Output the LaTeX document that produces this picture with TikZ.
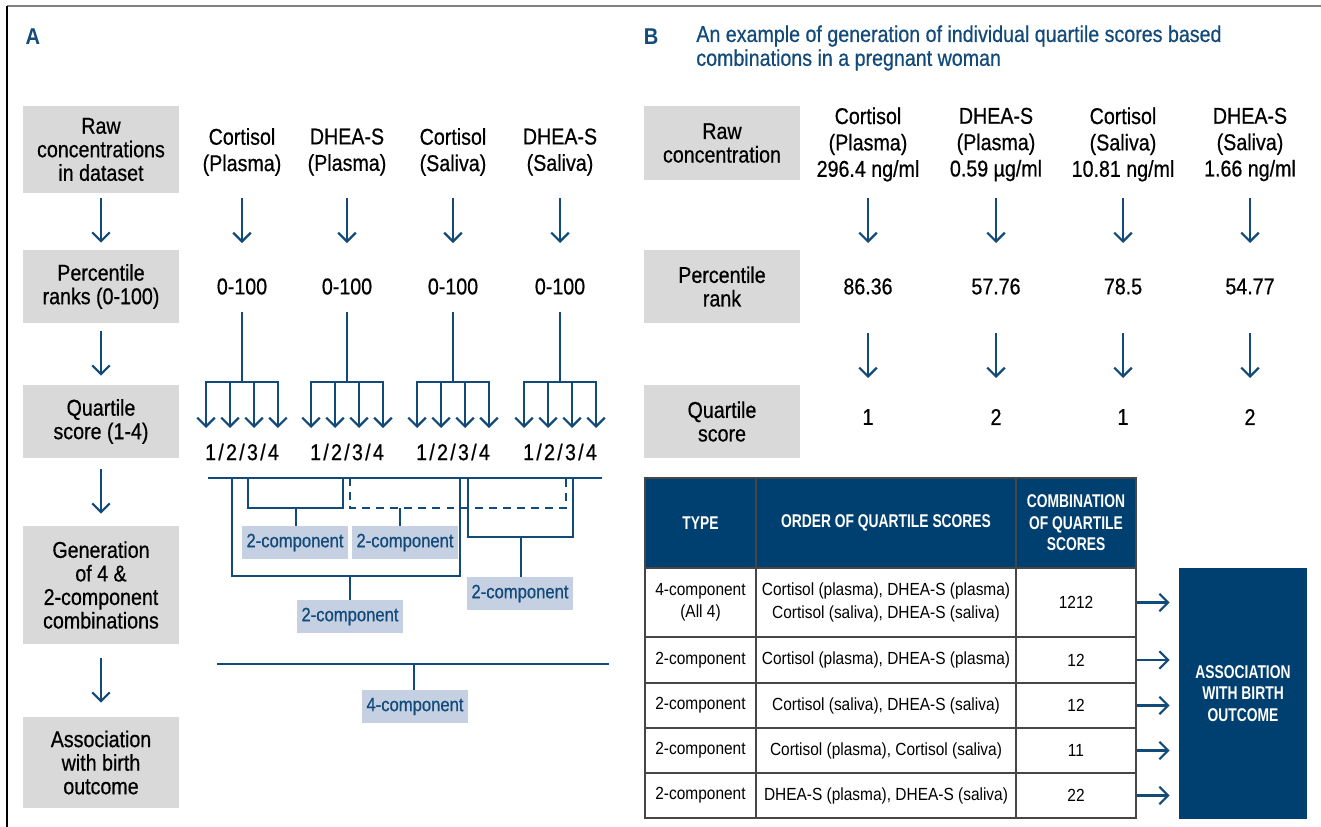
\documentclass[tikz,border=0pt]{standalone}
\usepackage{fontspec}
\setmainfont[FakeStretch=0.88]{Liberation Sans}
\newfontfamily\medfont[FakeStretch=0.86, FakeBold=0.6]{Liberation Sans}
\newfontfamily\condfont[FakeStretch=0.75]{Liberation Sans}
\usetikzlibrary{arrows.meta}

\definecolor{navy}{RGB}{0,64,112}
\definecolor{linkblue}{RGB}{18,74,122}
\definecolor{boxgray}{RGB}{217,217,217}
\definecolor{tagblue}{RGB}{197,208,226}
\definecolor{gridgray}{RGB}{70,70,70}
\newcommand{\quartiles}{1\kern1.3pt/\kern1.3pt2\kern1.3pt/\kern1.3pt3\kern1.3pt/\kern1.3pt4}

\begin{document}
\begin{tikzpicture}[x=0.02cm, y=-0.02cm,
    stage/.style = {fill=boxgray, minimum width=3.12cm, align=center, inner sep=0pt, font=\medfont\fontsize{13}{13.4}\selectfont},
    item/.style = {align=center, inner sep=0pt, font=\medfont\fontsize{13}{15}\selectfont},
    tag/.style = {fill=tagblue, text=linkblue, minimum width=2.12cm, minimum height=0.66cm, inner sep=0pt, font=\medfont\fontsize{11}{12}\selectfont},
    link/.style = {draw=linkblue, line width=1.25pt},
    arr/.style = {link, -{Straight Barb[length=5pt, width=10pt]}},
    head/.style = {draw=gridgray, line width=0.6pt, fill=navy, text=white, align=center, inner sep=0pt, minimum height=1.8cm, font=\condfont\bfseries\fontsize{10.5}{12.2}\selectfont},
    cell/.style = {draw=gridgray, line width=0.6pt, align=center, inner sep=0pt, font=\fontsize{10}{12.8}\selectfont}]
\useasboundingbox (0,0) rectangle (1321,827);
\draw[gray, line width=0.9pt] (7,6) -- (1321,6);
\draw[black, line width=0.9pt] (7,6) -- (7,827);

% panel A
\node[text=linkblue, font=\bfseries\fontsize{13}{13}\selectfont] (lA) at (33,37) {A};
\node[stage, minimum height=1.74cm] (ra) at (101,149.5) {Raw\\concentrations\\in dataset};
\node[stage, minimum height=1.46cm] (pa) at (101,286.5) {Percentile\\ranks (0-100)};
\node[stage, minimum height=1.46cm] (qa) at (101,421.5) {Quartile\\score (1-4)};
\node[stage, minimum height=2.36cm] (ga) at (101,585) {Generation\\of 4 \&\\2-component\\combinations};
\node[stage, minimum height=1.82cm] (aa) at (101,762.5) {Association\\with birth\\outcome};
\draw[arr, shorten <=0.1cm, shorten >=0.14cm] (ra) -- (pa);
\draw[arr, shorten <=0.16cm, shorten >=0.18cm] (pa) -- (qa);
\draw[arr, shorten <=0.22cm, shorten >=0.24cm] (qa) -- (ga);
\draw[arr, shorten <=0.28cm, shorten >=0.28cm] (ga) -- (aa);

\foreach \x/\n/\t in {242/1/{Cortisol\\(Plasma)}, 347/2/{DHEA-S\\(Plasma)}, 453/3/{Cortisol\\(Saliva)}, 560/4/{DHEA-S\\(Saliva)}}
{
    \node[item] (h\n) at (\x,152) {\t};
    \node[item] (p\n) at (\x,286.5) {0-100};
    \draw[arr, shorten <=0.92cm, shorten >=0.87cm] (h\n.center) -- (p\n.center);
    \coordinate (j\n) at (\x,382);
    \coordinate (e\n) at (\x,428);
    \draw[link, shorten <=0.51cm] (p\n.center) -- (j\n);
    \draw[link, line cap=rect] ([xshift=-0.72cm]j\n) -- ([xshift=0.72cm]j\n);
    \foreach \o in {-0.72,-0.24,0.24,0.72}
        \draw[arr] ([xshift=\o cm]j\n) -- ([xshift=\o cm]e\n);
    \node[item] (q\n) at (\x,452) {\quartiles};
}

\draw[link] (208,478) -- (602,478);
\draw[link] (232,478) -- (232,576) -- (460,576) -- (460,478);
\draw[link] (248,478) -- (248,508) -- (343,508) -- (343,478);
\draw[link, dash pattern=on 4.5pt off 3.5pt] (350,478) -- (350,508) -- (566,508) -- (566,478);
\draw[link] (468,478) -- (468,537) -- (573,537) -- (573,478);
\draw[link] (217,664) -- (609,664);

\node[tag] (t1) at (295,542.5) {2-component};
\node[tag] (t2) at (405,542.5) {2-component};
\node[tag] (t3) at (350,616.5) {2-component};
\node[tag] (t4) at (520,593.5) {2-component};
\node[tag] (t5) at (415,706.5) {4-component};
\coordinate (s1) at (296,508);
\coordinate (s2) at (400,508);
\coordinate (s3) at (350,576);
\coordinate (s4) at (521,537);
\coordinate (s5) at (414,664);
\foreach \n in {1,...,5}
    \draw[link] (s\n) -- (s\n |- t\n.north);

% panel B
\node[text=linkblue, font=\bfseries\fontsize{13}{13}\selectfont] (lB) at (651,37) {B};
\node[anchor=west, align=left, inner sep=0pt, text=linkblue, font=\medfont\fontsize{13}{13.6}\selectfont] (title) at (696,48)
    {An example of generation of individual quartile scores based\\combinations in a pregnant woman};
\node[stage, minimum height=1.48cm] (rb) at (722,143) {Raw\\concentration};
\node[stage, minimum height=1.46cm] (pb) at (722,286.5) {Percentile\\rank};
\node[stage, minimum height=1.46cm] (qb) at (722,421.5) {Quartile\\score};

\node[item] (v1) at (868,144.5) {Cortisol\\(Plasma)\\296.4 ng/ml};
\node[item] (v2) at (996,144.5) {DHEA-S\\(Plasma)\\0.59 µg/ml};
\node[item] (v3) at (1123,144.5) {Cortisol\\(Saliva)\\10.81 ng/ml};
\node[item] (v4) at (1250,144.5) {DHEA-S\\(Saliva)\\1.66 ng/ml};
\node[item] (n1) at (868,286.5) {86.36};
\node[item] (n2) at (996,286.5) {57.76};
\node[item] (n3) at (1123,286.5) {78.5};
\node[item] (n4) at (1250,286.5) {54.77};
\node[item] (k1) at (868,417) {1};
\node[item] (k2) at (996,417) {2};
\node[item] (k3) at (1123,417) {1};
\node[item] (k4) at (1250,417) {2};
\foreach \n in {1,...,4}
{
    \draw[arr, shorten <=1.07cm, shorten >=0.87cm] (v\n.center) -- (n\n.center);
    \draw[arr, shorten <=0.93cm, shorten >=0.78cm] (n\n.center) -- (k\n.center);
}

\node[head, minimum width=2.22cm] (th1) at (700.5,523) {TYPE};
\node[head, minimum width=5.2cm] (th2) at (886,523) {ORDER OF QUARTILE SCORES};
\node[head, minimum width=2.4cm] (th3) at (1076,523) {COMBINATION\\OF QUARTILE\\SCORES};
\node[fill=navy, text=white, minimum width=2.56cm, minimum height=5.02cm, align=center, inner sep=0pt,
    font=\condfont\bfseries\fontsize{10.5}{12.4}\selectfont] (assoc) at (1243,693.5) {ASSOCIATION\\WITH BIRTH\\OUTCOME};

\foreach \n/\y/\h/\a/\b/\c in {
    1/602.5/1.38/{4-component\\(All 4)}/{Cortisol (plasma), DHEA-S (plasma)\\Cortisol (saliva), DHEA-S (saliva)}/1212,
    2/660/0.92/2-component/{Cortisol (plasma), DHEA-S (plasma)}/12,
    3/705.5/0.9/2-component/{Cortisol (saliva), DHEA-S (saliva)}/12,
    4/750.5/0.9/2-component/{Cortisol (plasma), Cortisol (saliva)}/11,
    5/795.5/0.9/2-component/{DHEA-S (plasma), DHEA-S (saliva)}/22}
{
    \node[cell, minimum width=2.22cm, minimum height=\h cm] (ta\n) at (700.5,\y) {\a};
    \node[cell, minimum width=5.2cm, minimum height=\h cm] (tb\n) at (886,\y) {\b};
    \node[cell, minimum width=2.4cm, minimum height=\h cm] (tc\n) at (1076,\y) {\c};
    \draw[arr, shorten >=0.18cm] (tc\n) -- (tc\n -| assoc.west);
}
\end{tikzpicture}
\end{document}
